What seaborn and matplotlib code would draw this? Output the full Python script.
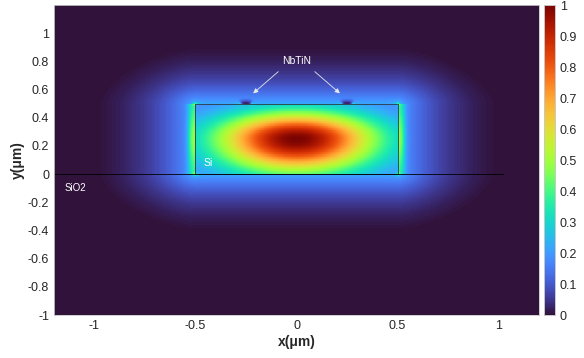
import numpy as np
import pandas as pd
import seaborn as sns
import matplotlib
matplotlib.use("Agg")
import matplotlib.pyplot as plt

# ---- data / model parameters ----
x_range = [-1.2, 1.2]          # um
y_range = [-1.0, 1.2]          # um
core_x = [-0.5, 0.5]           # Si core extent (um)
core_y = [0.0, 0.5]
peak_xy = [0.0, 0.25]          # field maximum position
peak_width_x = 0.396           # widths of the hot spot
peak_width_y = [0.24, 0.19]    # below / above the maximum
core_floor = 0.14              # field level at core edges
halo_level = 0.22              # field just outside the core
decay_side, decay_top, decay_bottom = 0.22, 0.18, 0.18
halo_cut = 2.27                # normalised distance where the halo vanishes
halo_shape = 1.6               # p-norm of the halo distance (rounder corners)
wall_peak = [0.34, 0.14]       # outside field on vertical walls (base, extra at mid-height)
wall_band = 0.035              # width of the bright band outside the walls
strip_centers = [-0.25, 0.25]  # NbTiN strips
strip_width = 0.06
substrate_line_x = [-1.2, 1.02]
x_ticks = [-1, -0.5, 0, 0.5, 1]
y_ticks = [-1, -0.8, -0.6, -0.4, -0.2, 0, 0.2, 0.4, 0.6, 0.8, 1]
cbar_ticks = [0, 0.1, 0.2, 0.3, 0.4, 0.5, 0.6, 0.7, 0.8, 0.9, 1]
labels = {"nbtin": (0.0, 0.80), "si": (-0.46, 0.08), "sio2": (-1.15, -0.10)}
arrow_tails = [(-0.08, 0.74), (0.08, 0.74)]
arrow_heads = [(-0.225, 0.56), (0.225, 0.56)]

# ---- field grid ----
h = 0.005
xs = np.arange(x_range[0] + h / 2, x_range[1], h)
ys = np.arange(y_range[0] + h / 2, y_range[1], h)
X, Y = np.meshgrid(xs, ys)


def inner(x, y):
    sy = np.where(y < peak_xy[1], peak_width_y[0], peak_width_y[1])
    return core_floor + (1 - core_floor) * np.exp(
        -((x - peak_xy[0]) / peak_width_x) ** 2 - ((y - peak_xy[1]) / sy) ** 2)


xc = np.clip(X, *core_x)
yc = np.clip(Y, *core_y)
dx = np.abs(X - xc)
dy = Y - yc
inside = (dx == 0) & (dy == 0)
Ly = np.where(dy > 0, decay_top, decay_bottom)
p = halo_shape
dn = ((dx / decay_side) ** p + (np.abs(dy) / Ly) ** p) ** (1 / p)
tail = np.clip((np.exp(-dn) - np.exp(-halo_cut)) / (1 - np.exp(-halo_cut)), 0, None)
F_out = halo_level * tail
# enhanced field just outside the vertical walls
side = (dy == 0) & (dx > 0)
wall_val = wall_peak[0] + wall_peak[1] * np.exp(-((Y - peak_xy[1]) / 0.2) ** 2)
F_out = F_out + side * (wall_val - halo_level) * np.exp(-(dx / wall_band) ** 3)
F = np.where(inside, inner(X, Y), F_out)
# corner spots
for cx in core_x:
    for cy in core_y:
        F = F + 0.22 * np.exp(-np.hypot(X - cx, Y - cy) / 0.008)
# NbTiN strips: field suppression above and hot edges
for sc in strip_centers:
    mask = np.exp(-((X - sc) / (strip_width * 0.55)) ** 4 - ((Y - core_y[1] - 0.004) / 0.022) ** 2)
    F = F * (1 - 0.9 * mask * (Y > core_y[1] - 0.003))
    for e in (sc - strip_width / 2, sc + strip_width / 2):
        F = F + 0.25 * np.exp(-np.hypot(X - e, Y - core_y[1]) / 0.006)
F = np.clip(F, 0, 1)

df = pd.DataFrame(F, index=np.round(ys, 4), columns=np.round(xs, 4))


def ix(x):
    return (x - x_range[0]) / h


def iy(y):
    return (y - y_range[0]) / h


# ---- plot ----
sns.set_theme(style="white")
plt.rcParams["font.family"] = ["Liberation Sans", "DejaVu Sans"]
fig = plt.figure(figsize=(5.84, 3.58), dpi=100)
ax = fig.add_axes([0.0925, 0.120, 0.8305, 0.866])
cax = fig.add_axes([0.9315, 0.120, 0.0188, 0.866])
sns.heatmap(df, ax=ax, cbar_ax=cax, cmap="turbo", vmin=0, vmax=1,
            xticklabels=False, yticklabels=False, rasterized=True)
ax.invert_yaxis()

# structure outlines
ax.plot([ix(core_x[0]), ix(core_x[1]), ix(core_x[1]), ix(core_x[0]), ix(core_x[0])],
        [iy(core_y[0]), iy(core_y[0]), iy(core_y[1]), iy(core_y[1]), iy(core_y[0])],
        color="#2b3a40", lw=0.6)
ax.plot([ix(substrate_line_x[0]), ix(substrate_line_x[1])], [iy(0), iy(0)], color="black", lw=0.6)

# annotations
tx, ty = labels["nbtin"]
ax.text(ix(tx), iy(ty), "NbTiN", color="white", fontsize=7.5, ha="center", va="center")
for (ax0, ay0), (ax1, ay1) in zip(arrow_tails, arrow_heads):
    ax.annotate("", xy=(ix(ax1), iy(ay1)), xytext=(ix(ax0), iy(ay0)),
                arrowprops=dict(arrowstyle="-|>", color="#e8e8e8", lw=0.6, mutation_scale=7))
ax.text(ix(labels["si"][0]), iy(labels["si"][1]), "Si", color="white", fontsize=7.5, ha="left", va="center")
ax.text(ix(labels["sio2"][0]), iy(labels["sio2"][1]), "SiO2", color="white", fontsize=7, ha="left", va="center")

ax.set_xticks([ix(v) for v in x_ticks])
ax.set_xticklabels([f"{v:g}" for v in x_ticks])
ax.set_yticks([iy(v) for v in y_ticks])
ax.set_yticklabels([f"{v:g}" for v in y_ticks], rotation=0)
ax.tick_params(axis="both", labelsize=9, direction="in", length=3, width=0.5,
               bottom=True, left=True, colors="#bbbbbb", labelcolor="#262626")
ax.set_xlabel("x(μm)", fontsize=10, fontweight="bold", labelpad=2)
ax.set_ylabel("y(μm)", fontsize=10, fontweight="bold", labelpad=2)
for s in ax.spines.values():
    s.set_visible(True)
    s.set_color("#c8c8c8")
    s.set_linewidth(0.6)

cax.set_yticks(cbar_ticks)
cax.set_yticklabels([f"{v:g}" for v in cbar_ticks])
cax.tick_params(labelsize=9, colors="#262626", length=2, width=0.5, direction="in", right=True)
for s in cax.spines.values():
    s.set_visible(True)
    s.set_color("#c8c8c8")
    s.set_linewidth(0.6)

fig.savefig("out.png", dpi=100)
